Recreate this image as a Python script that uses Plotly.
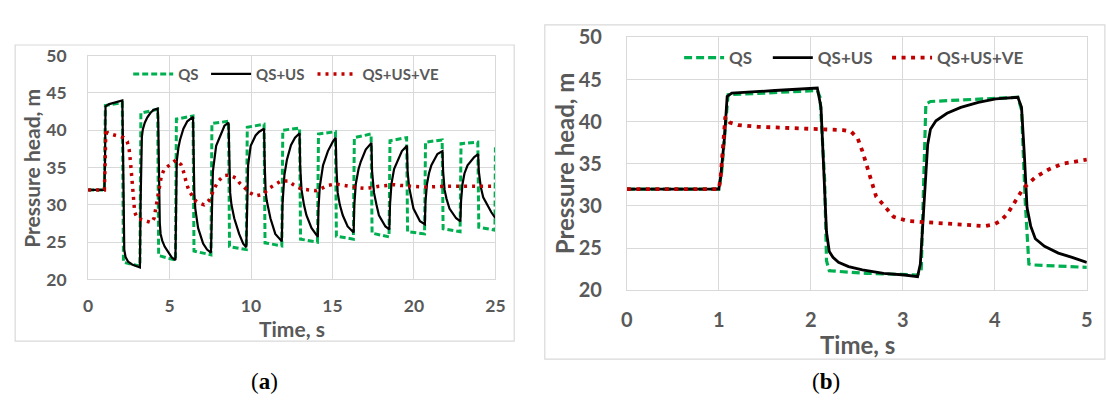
import plotly.graph_objects as go

W, H = 1106, 403
def px(x): return x / W
def py(y): return 1 - y / H

# ---------------- Panel (a): 0-25 s ----------------
qs_a_t = [0, 1.00, 1.06, 2.10, 2.17, 3.18, 3.24, 4.27, 4.33, 5.36, 5.42, 6.44, 6.50, 7.54, 7.60, 8.62,
          8.68, 9.71, 9.77, 10.80, 10.86, 11.89, 11.95, 12.98, 13.04, 14.08, 14.14, 15.18, 15.24, 16.28,
          16.34, 17.37, 17.43, 18.47, 18.53, 19.55, 19.61, 20.65, 20.71, 21.73, 21.79, 22.83, 22.89,
          23.92, 23.98, 24.97, 25.0]
qs_a_v = [32, 32, 43.3, 43.7, 22.3, 21.8, 42.3, 42.8, 23.2, 22.6, 41.5, 41.9, 23.8, 23.3, 40.9, 41.2,
          24.4, 24.0, 40.4, 40.8, 24.9, 24.5, 40.0, 40.3, 25.4, 25.0, 39.5, 39.8, 25.8, 25.4,
          39.0, 39.5, 26.2, 25.7, 38.6, 39.0, 26.4, 26.1, 38.4, 38.7, 26.8, 26.4, 38.2,
          38.4, 27.0, 26.6, 37.7]

us_a_t = [0, 1.00, 1.04, 1.07, 1.30, 1.70, 2.10,
          2.14, 2.18, 2.22, 2.30, 2.45, 2.70, 3.00, 3.18,
          3.22, 3.27, 3.30, 3.36, 3.48, 3.63, 3.82, 4.01, 4.27,
          4.30, 4.33, 4.36, 4.40, 4.45, 4.55, 4.70, 4.85, 5.00, 5.15, 5.36,
          5.40, 5.44, 5.54, 5.64, 5.85, 6.09, 6.44,
          6.48, 6.52, 6.58, 6.75, 7.06, 7.30, 7.54,
          7.58, 7.66, 7.86, 8.16, 8.37, 8.62,
          8.66, 8.72, 8.80, 8.97, 9.27, 9.52, 9.71,
          9.75, 9.82, 9.98, 10.28, 10.50, 10.80,
          10.84, 10.90, 10.97, 11.19, 11.49, 11.70, 11.89,
          11.93, 12.05, 12.20, 12.45, 12.70, 12.98,
          13.02, 13.10, 13.25, 13.40, 13.71, 13.97, 14.10,
          14.14, 14.22, 14.42, 14.72, 15.03, 15.20,
          15.24, 15.32, 15.45, 15.63, 15.93, 16.30,
          16.34, 16.43, 16.60, 16.74, 17.04, 17.39,
          17.43, 17.55, 17.70, 17.85, 18.25, 18.49,
          18.53, 18.62, 18.78, 18.96, 19.26, 19.57,
          19.61, 19.70, 19.82, 19.97, 20.37, 20.67,
          20.71, 20.80, 20.92, 21.07, 21.44, 21.75,
          21.79, 21.88, 22.00, 22.18, 22.59, 22.85,
          22.89, 22.98, 23.10, 23.29, 23.70, 23.94,
          23.98, 24.10, 24.25, 24.50, 24.75, 25.00]
us_a_v = [32, 32, 36.0, 43.2, 43.5, 43.8, 44.0,
          38.0, 27.0, 24.0, 23.0, 22.4, 22.0, 21.7, 21.6,
          30.0, 37.3, 39.1, 40.1, 41.0, 41.7, 42.3, 42.7, 42.9,
          41.7, 36.2, 29.8, 27.6, 26.1, 25.2, 24.4, 23.9, 23.3, 22.9, 22.6,
          29.0, 35.8, 37.6, 38.7, 40.2, 41.2, 41.8,
          36.5, 31.5, 29.5, 26.9, 24.8, 24.0, 23.6,
          29.5, 34.5, 37.9, 39.5, 40.6, 41.0,
          35.5, 31.6, 30.0, 28.2, 26.1, 24.8, 24.3,
          29.5, 35.3, 37.9, 39.3, 39.8, 40.2,
          35.5, 31.6, 30.5, 28.2, 26.1, 25.5, 25.1,
          30.0, 34.0, 36.0, 38.0, 39.0, 39.6,
          35.0, 32.0, 30.0, 28.6, 26.9, 26.1, 25.7,
          29.5, 32.4, 35.3, 37.2, 38.5, 39.0,
          35.0, 31.6, 30.0, 28.6, 27.1, 26.3,
          30.0, 32.8, 34.8, 35.8, 37.4, 38.3,
          34.5, 31.6, 30.0, 28.6, 27.1, 26.7,
          30.0, 32.8, 34.8, 35.8, 37.2, 37.9,
          34.5, 32.4, 31.0, 29.5, 27.8, 27.4,
          30.5, 32.8, 34.2, 35.3, 36.8, 37.2,
          34.5, 32.0, 30.8, 29.5, 28.2, 27.8,
          30.5, 32.8, 34.2, 35.3, 36.4, 36.8,
          34.5, 32.4, 31.0, 29.9, 29.0, 28.2]

ve_a_t = [0, 1.00, 1.05, 1.09, 1.20, 1.50, 1.80, 2.18, 2.40, 2.52, 2.60, 2.67, 2.72, 2.78, 2.86,
          3.02, 3.43, 3.89, 4.05, 4.20, 4.35, 4.50, 4.68, 5.00, 5.40, 5.70, 5.85, 6.05, 6.21,
          6.65, 7.12, 7.42, 7.62, 7.82, 8.00, 8.33, 8.67, 9.07, 9.31, 9.62, 9.94, 10.30, 10.75,
          11.09, 11.45, 11.85, 12.30, 12.60, 13.11, 13.51, 13.98, 14.32, 14.72, 15.19, 15.63,
          16.03, 16.54, 17.04, 17.44, 17.85, 18.35, 18.76, 19.16, 19.62, 20.17, 20.57, 20.97,
          21.48, 21.88, 22.28, 22.79, 23.29, 24.10, 25.00]
ve_a_v = [32, 32, 36.0, 40.2, 39.6, 39.4, 39.2, 39.0, 38.5, 37.4, 35.8, 33.7, 32.0, 30.1, 29.0,
          28.2, 27.9, 27.6, 28.2, 30.0, 32.0, 33.9, 34.8, 35.4, 36.0, 35.4, 34.5, 32.8, 31.8,
          30.4, 30.0, 30.6, 31.6, 32.5, 33.2, 33.9, 34.0, 33.6, 32.9, 32.2, 31.6, 31.2, 31.4,
          32.2, 32.7, 33.2, 33.2, 32.7, 32.1, 32.0, 31.9, 32.2, 32.6, 32.8, 32.7,
          32.5, 32.3, 32.2, 32.3, 32.5, 32.6, 32.7, 32.6, 32.5, 32.4, 32.4, 32.4,
          32.5, 32.5, 32.5, 32.5, 32.5, 32.4, 32.5]

# ---------------- Panel (b): 0-5 s ----------------
qs_b_t = [0, 1.00, 1.03, 1.07, 1.10, 1.50, 2.07, 2.10, 2.15, 2.17, 2.20, 2.60, 3.16, 3.20, 3.23,
          3.25, 3.30, 3.80, 4.25, 4.29, 4.33, 4.37, 4.41, 5.00]
qs_b_v = [32, 32, 34.0, 40.0, 43.2, 43.4, 43.7, 42.9, 33.0, 23.5, 22.3, 22.0, 21.8, 22.5, 34.3,
          42.1, 42.4, 42.7, 42.9, 41.4, 30.6, 23.1, 23.0, 22.7]

us_b_t = [0, 1.00, 1.02, 1.06, 1.09, 1.14, 1.61, 2.07, 2.11, 2.14, 2.17, 2.20, 2.24, 2.30, 2.41,
          2.56, 2.79, 3.02, 3.16, 3.19, 3.23, 3.27, 3.30, 3.36, 3.48, 3.63, 3.82, 4.01, 4.25,
          4.29, 4.32, 4.35, 4.39, 4.44, 4.54, 4.69, 4.84, 5.00]
us_b_v = [32, 32, 33.5, 38.0, 43.0, 43.4, 43.7, 44.0, 41.7, 34.3, 26.9, 24.6, 23.9, 23.3, 22.8,
          22.4, 22.0, 21.8, 21.6, 23.1, 30.6, 37.3, 39.1, 40.1, 41.0, 41.7, 42.3, 42.7, 42.9,
          41.7, 36.2, 29.8, 27.6, 26.1, 25.2, 24.4, 23.9, 23.3]

ve_b_t = [0, 1.00, 1.02, 1.04, 1.07, 1.12, 1.21, 1.42, 1.80, 2.18, 2.35, 2.44, 2.51, 2.56, 2.61,
          2.66, 2.71, 2.79, 2.90, 3.06, 3.32, 3.63, 3.89, 3.99, 4.06, 4.14, 4.22, 4.31, 4.44,
          4.58, 4.73, 4.88, 5.00]
ve_b_v = [32, 32, 33.5, 36.9, 40.6, 39.9, 39.6, 39.4, 39.2, 39.1, 39.0, 38.8, 38.0, 36.5, 34.7,
          32.8, 31.1, 30.1, 28.7, 28.2, 28.0, 27.7, 27.6, 27.8, 28.2, 29.1, 30.6, 32.1, 33.4,
          34.3, 35.0, 35.3, 35.5]

names = ["QS", "QS+US", "QS+US+VE"]
GREEN, BLACK, RED = "#00B050", "#000000", "#C00000"
GRID = "#D9D9D9"
TXT = "#595959"
FONT = "Lato"

fig = go.Figure()

# panel (a)
fig.add_trace(go.Scatter(x=qs_a_t, y=qs_a_v, name=names[0], mode="lines", xaxis="x", yaxis="y",
                         line=dict(color=GREEN, width=3, dash="6px,3px"), legend="legend"))
fig.add_trace(go.Scatter(x=us_a_t, y=us_a_v, name=names[1], mode="lines", xaxis="x", yaxis="y",
                         line=dict(color=BLACK, width=2.2), legend="legend2"))
fig.add_trace(go.Scatter(x=ve_a_t, y=ve_a_v, name=names[2], mode="lines", xaxis="x", yaxis="y",
                         line=dict(color=RED, width=3.5, dash="3px,5px"), legend="legend3"))
# panel (b)
fig.add_trace(go.Scatter(x=qs_b_t, y=qs_b_v, name=names[0], mode="lines", xaxis="x2", yaxis="y2",
                         line=dict(color=GREEN, width=3.2, dash="8px,4px"), legend="legend4"))
fig.add_trace(go.Scatter(x=us_b_t, y=us_b_v, name=names[1], mode="lines", xaxis="x2", yaxis="y2",
                         line=dict(color=BLACK, width=2.8), legend="legend5"))
fig.add_trace(go.Scatter(x=ve_b_t, y=ve_b_v, name=names[2], mode="lines", xaxis="x2", yaxis="y2",
                         line=dict(color=RED, width=3.8, dash="4px,5.5px"), legend="legend6"))

def axis(domain, rng, dtick, size, standoff, anchor):
    return dict(domain=domain, range=rng, dtick=dtick, tick0=0, showgrid=True, gridcolor=GRID,
                gridwidth=1, zeroline=False, showline=True, linecolor=GRID, linewidth=1, mirror=True,
                ticks="", ticklabelstandoff=standoff, anchor=anchor, fixedrange=True,
                tickfont=dict(family=FONT, size=size, color=TXT, weight="bold"))

def legend(x, y, size):
    return dict(x=px(x), y=py(y), xanchor="left", yanchor="middle", orientation="h",
                bgcolor="rgba(0,0,0,0)", borderwidth=0, itemwidth=40,
                font=dict(family=FONT, size=size, color=TXT, weight="bold"))

layout = dict(
    width=W, height=H, margin=dict(l=0, r=0, t=0, b=0),
    paper_bgcolor="white", plot_bgcolor="white", showlegend=True,
    xaxis=axis([px(83.3), px(496.6)], [0, 25], 5, 17.5, 11, "y"),
    yaxis=axis([py(283.3), py(45.3)], [20, 50], 5, 17.5, 17, "x"),
    xaxis2=axis([px(630), px(1096.7)], [0, 5], 1, 20, 12, "y2"),
    yaxis2=axis([py(294.7), py(26)], [20, 50], 5, 20, 20, "x2"),
    legend=legend(124, 65, 15),
    legend2=legend(203, 65, 15),
    legend3=legend(311, 65, 15),
    legend4=legend(683, 48, 17),
    legend5=legend(773, 48, 17),
    legend6=legend(894, 48, 17),
    shapes=[
        dict(type="rect", xref="paper", yref="paper", x0=px(9.3), x1=px(515.7), y0=py(349), y1=py(34),
             line=dict(color=GRID, width=1.2), fillcolor="rgba(0,0,0,0)", layer="below"),
        dict(type="rect", xref="paper", yref="paper", x0=px(546.7), x1=px(1115), y0=py(368), y1=py(12.7),
             line=dict(color=GRID, width=1.2), fillcolor="rgba(0,0,0,0)", layer="below"),
    ],
    annotations=[
        dict(text="Pressure head, m", xref="paper", yref="paper", x=px(26), y=py(165), textangle=-90,
             showarrow=False, xanchor="center", yanchor="middle",
             font=dict(family=FONT, size=21, color=TXT, weight="bold")),
        dict(text="Time, s", xref="paper", yref="paper", x=px(290), y=py(335),
             showarrow=False, xanchor="center", yanchor="middle",
             font=dict(family=FONT, size=21, color=TXT, weight="bold")),
        dict(text="Pressure head, m", xref="paper", yref="paper", x=px(567), y=py(160), textangle=-90,
             showarrow=False, xanchor="center", yanchor="middle",
             font=dict(family=FONT, size=24, color=TXT, weight="bold")),
        dict(text="Time, s", xref="paper", yref="paper", x=px(864), y=py(352),
             showarrow=False, xanchor="center", yanchor="middle",
             font=dict(family=FONT, size=24, color=TXT, weight="bold")),
        dict(text="(<b>a</b>)", xref="paper", yref="paper", x=px(262.5), y=py(392),
             showarrow=False, xanchor="center", yanchor="middle",
             font=dict(family="Liberation Serif", size=23, color="#000000")),
        dict(text="(<b>b</b>)", xref="paper", yref="paper", x=px(831.7), y=py(392),
             showarrow=False, xanchor="center", yanchor="middle",
             font=dict(family="Liberation Serif", size=23, color="#000000")),
    ],
)
fig.update_layout(**layout)
fig.write_html("out.html", config={"displayModeBar": False},
               post_script="document.body.style.margin='0';document.body.style.overflow='hidden';")
